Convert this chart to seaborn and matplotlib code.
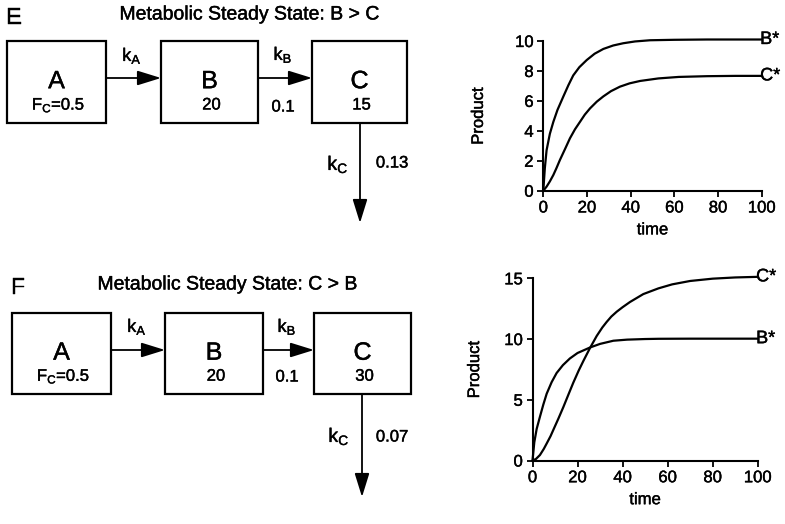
import matplotlib
matplotlib.use("Agg")
import matplotlib.pyplot as plt
import matplotlib.patheffects as pe
import seaborn as sns
import pandas as pd
from matplotlib.patches import Rectangle
from matplotlib.text import Text

# ---- time courses of product formation -------------------------------
# Panel E (B > C)
e_b_time = [0, 0.7, 1.5, 3, 4.6, 6.5, 9.2, 11.5, 13.7, 16.5, 19.9, 23.5, 27.5, 32, 36.6, 42,
            48.9, 60, 75, 100]
e_b_prod = [0, 1.5, 2.7, 3.8, 4.6, 5.4, 6.3, 7.05, 7.7, 8.25, 8.73, 9.15, 9.47, 9.7, 9.85,
            9.97, 10.05, 10.08, 10.1, 10.1]
e_c_time = [0, 1.5, 3, 4.6, 6, 7.6, 10, 12.2, 14.5, 16.8, 19, 21.4, 24.5, 27.5, 31, 35.1,
            39.5, 44.3, 52.7, 62, 75, 88, 100]
e_c_prod = [0, 0.27, 0.62, 1.05, 1.5, 2.05, 2.8, 3.5, 4.1, 4.6, 5.08, 5.5, 5.95, 6.3, 6.65,
            6.95, 7.17, 7.33, 7.5, 7.6, 7.65, 7.67, 7.67]
# Panel F (C > B)
f_b_time = [0, 0.8, 1.85, 3.3, 4.8, 6.3, 8.5, 10.7, 13.5, 16.6, 20, 25.5, 30, 35.9, 42, 50,
            56, 70, 85, 100]
f_b_prod = [0, 1.5, 2.6, 3.6, 4.6, 5.5, 6.45, 7.2, 7.85, 8.4, 8.85, 9.3, 9.6, 9.86, 9.95,
            10.0, 10.02, 10.03, 10.03, 10.03]
f_c_time = [0, 1.5, 3.3, 5, 6.3, 8, 9.2, 11.5, 13.7, 16, 18.1, 20.5, 22.6, 25.5, 28.5, 31,
            32.9, 35, 37.4, 40, 43.3, 49.2, 55.9, 62, 70, 80, 90, 100]
f_c_prod = [0, 0.12, 0.45, 0.95, 1.4, 2.0, 2.5, 3.45, 4.4, 5.45, 6.4, 7.4, 8.2, 9.25, 10.25,
            10.95, 11.4, 11.85, 12.25, 12.62, 13.05, 13.7, 14.17, 14.5, 14.78, 14.97, 15.07,
            15.12]

time_ticks = [0, 20, 40, 60, 80, 100]
e_prod_ticks = [0, 2, 4, 6, 8, 10]
f_prod_ticks = [0, 5, 10, 15]

# ---- compartment model text -----------------------------------------
compartments = ["A", "B", "C"]
e_amounts = [r"F$_{\mathrm{C}}$=0.5", "20", "15"]
f_amounts = [r"F$_{\mathrm{C}}$=0.5", "20", "30"]
kb_value = "0.1"
e_kc_value = "0.13"
f_kc_value = "0.07"

sns.set_theme(style="ticks")
plt.rcParams["font.family"] = ["Liberation Sans", "DejaVu Sans"]
plt.rcParams["mathtext.fontset"] = "custom"
plt.rcParams["mathtext.rm"] = "Liberation Sans"
plt.rcParams["mathtext.it"] = "Liberation Sans:italic"
plt.rcParams["mathtext.bf"] = "Liberation Sans:bold"
for key in ("text.color", "axes.labelcolor", "xtick.color", "ytick.color",
            "axes.edgecolor"):
    plt.rcParams[key] = "black"

W, H = 785, 524
fig = plt.figure(figsize=(W / 100, H / 100), dpi=100)
fig.patch.set_facecolor("white")

# full-figure canvas in pixel units for the box diagrams
canvas = fig.add_axes([0, 0, 1, 1])
canvas.set_xlim(0, W)
canvas.set_ylim(H, 0)
canvas.axis("off")


def arrow(x0, y0, x1, y1):
    canvas.annotate("", xy=(x1, y1), xytext=(x0, y0),
                    arrowprops=dict(arrowstyle="-|>,head_length=1.45,head_width=0.45",
                                    lw=1.3, color="black", shrinkA=0, shrinkB=0,
                                    mutation_scale=10))


def diagram(letter, letter_xy, title, title_xy, boxes, top, bot, flow_y, amounts,
            ka_xy, kb_xy, kbv_xy, down_x, down_end, kc_xy, kcv_xy, kc_value):
    canvas.text(*letter_xy, letter, fontsize=17, ha="left", va="center")
    canvas.text(*title_xy, title, fontsize=14, ha="center", va="center")
    for (x0, x1), name, amt in zip(boxes, compartments, amounts):
        canvas.add_patch(Rectangle((x0, top), x1 - x0, bot - top, fill=False,
                                   lw=1.6, ec="black"))
        cx = (x0 + x1) / 2
        canvas.text(cx, top + 0.49 * (bot - top), name, fontsize=18,
                    ha="center", va="center")
        canvas.text(cx + 2, top + 0.78 * (bot - top), amt, fontsize=12,
                    ha="center", va="center")
    arrow(boxes[0][1], flow_y, boxes[1][0], flow_y)
    arrow(boxes[1][1], flow_y, boxes[2][0], flow_y)
    arrow(down_x, bot, down_x, down_end)
    canvas.text(*ka_xy, r"k$_{\mathrm{A}}$", fontsize=13, ha="center", va="center")
    canvas.text(*kb_xy, r"k$_{\mathrm{B}}$", fontsize=13, ha="center", va="center")
    canvas.text(*kbv_xy, kb_value, fontsize=12, ha="center", va="center")
    canvas.text(*kc_xy, r"k$_{\mathrm{C}}$", fontsize=14, ha="center", va="center")
    canvas.text(*kcv_xy, kc_value, fontsize=12, ha="center", va="center")


diagram("E", (6, 18), "Metabolic Steady State: B > C", (250, 15),
        [(7, 106), (161, 258), (312, 407)], 41, 123, 78, e_amounts,
        (132, 56), (283, 55), (283, 107), 360, 223, (338, 165), (392, 163), e_kc_value)
diagram("F", (11, 288), "Metabolic Steady State: C > B", (228, 285),
        [(12, 111), (165, 263), (314, 411)], 313, 394, 350, f_amounts,
        (137, 327), (287, 327), (287, 377), 362, 497, (339, 437), (392, 437), f_kc_value)


def product_plot(rect_px, b_t, b_p, c_t, c_p, yticks, ylabelpad):
    x0, y_top, x1, y_bot = rect_px
    ax = fig.add_axes([x0 / W, 1 - y_bot / H, (x1 - x0) / W, (y_bot - y_top) / H])
    df = pd.concat([
        pd.DataFrame({"time": b_t, "Product": b_p, "series": "B*"}),
        pd.DataFrame({"time": c_t, "Product": c_p, "series": "C*"}),
    ])
    sns.lineplot(data=df, x="time", y="Product", hue="series",
                 palette={"B*": "black", "C*": "black"}, estimator=None,
                 legend=False, lw=1.6, ax=ax)
    for ln in ax.lines:
        ln.set_clip_on(False)
        ln.set_solid_joinstyle("round")
    ax.set_xlim(0, 100)
    ax.set_ylim(0, yticks[-1])
    ax.set_xticks(time_ticks)
    ax.set_yticks(yticks)
    ax.set_facecolor("none")
    sns.despine(ax=ax)
    for s in ("left", "bottom"):
        ax.spines[s].set_linewidth(1.5)
    ax.tick_params(direction="out", length=4, width=1.3, labelsize=12, pad=3)
    ax.set_xlabel("time", fontsize=12, labelpad=5)
    ax.set_ylabel("Product", fontsize=12, labelpad=ylabelpad)
    ax.text(99.3, b_p[-1], "B*", fontsize=13, ha="left", va="center")
    ax.text(99.3, c_p[-1], "C*", fontsize=13, ha="left", va="center")
    return ax


product_plot((543.3, 41, 761.7, 190.7), e_b_time, e_b_prod, e_c_time, e_c_prod,
             e_prod_ticks, 21)
product_plot((532.5, 278.3, 757.7, 460.5), f_b_time, f_b_prod, f_c_time, f_c_prod,
             f_prod_ticks, 16)

# slightly heavier glyphs, like a printed figure
fig.canvas.draw()
for t in fig.findobj(Text):
    if t.get_text():
        t.set_path_effects([pe.withStroke(linewidth=0.3, foreground="black")])

fig.savefig("out.png", dpi=100)
